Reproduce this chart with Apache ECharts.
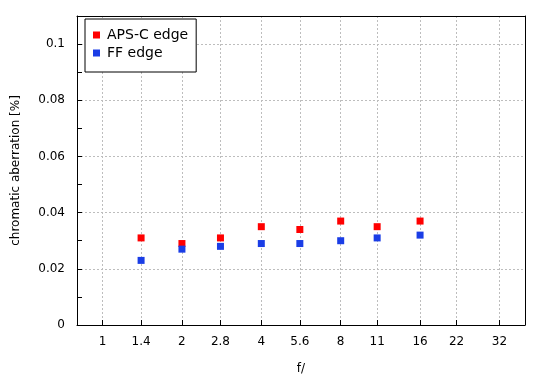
<!DOCTYPE html>
<html>
<head>
<meta charset="utf-8">
<script src="https://cdn.jsdelivr.net/npm/echarts@6/dist/echarts.min.js"></script>
<style>html,body{margin:0;padding:0;background:#fff}#c{width:550px;height:380px}</style>
</head>
<body>
<div id="c"></div>
<script>
var fStops = [1, 1.4, 2, 2.8, 4, 5.6, 8, 11, 16, 22, 32];
var apertures = [1.4, 2, 2.8, 4, 5.6, 8, 11, 16];
var apscEdge = [0.031, 0.029, 0.031, 0.035, 0.034, 0.037, 0.035, 0.037];
var ffEdge = [0.023, 0.027, 0.028, 0.029, 0.029, 0.030, 0.031, 0.032];
var yLabels = [0, 0.02, 0.04, 0.06, 0.08, 0.1];

var font = 'DejaVu Sans, Verdana, sans-serif';
var chart = echarts.init(document.getElementById('c'));
function pairs(xs, ys) { return xs.map(function (x, i) { return [x, ys[i]]; }); }
var gridLine = { show: true, lineStyle: { color: '#bdbdbd', type: [2, 2], width: 1 } };
chart.setOption({
  animation: false,
  grid: { left: 77, right: 25, top: 16, bottom: 55, containLabel: false },
  legend: {
    orient: 'vertical', left: 85, top: 19,
    backgroundColor: '#fff', borderColor: '#000', borderWidth: 1,
    padding: [9, 8, 12, 8],
    itemWidth: 7, itemHeight: 7, itemGap: 4,
    icon: 'rect',
    textStyle: { fontFamily: font, fontSize: 14, color: '#000', padding: [0, 0, 0, 2] },
    data: ['APS-C edge', 'FF edge']
  },
  xAxis: [{
    type: 'log', min: 0.8, max: 40, position: 'bottom',
    name: 'f/', nameLocation: 'middle', nameGap: 38,
    nameTextStyle: { fontFamily: font, fontSize: 12, color: '#000' },
    axisLine: { show: true, lineStyle: { color: '#000', width: 1 } },
    axisTick: { show: true, inside: true, length: 5, customValues: fStops, lineStyle: { color: '#000' } },
    axisLabel: { customValues: fStops, margin: 11, fontFamily: font, fontSize: 12, color: '#000',
      formatter: function (v) { return String(Math.round(v * 10) / 10); } },
    splitLine: gridLine,
    minorTick: { show: false }, minorSplitLine: { show: false }
  }, {
    type: 'value', min: 0, max: 1, position: 'top',
    axisLine: { show: true, onZero: false, lineStyle: { color: '#000', width: 1 } },
    axisTick: { show: false }, axisLabel: { show: false }, splitLine: { show: false }
  }],
  yAxis: [{
    type: 'value', min: 0, max: 0.11, interval: 0.01, position: 'left',
    name: 'chromatic aberration [%]', nameLocation: 'middle', nameGap: 55,
    nameTextStyle: { fontFamily: font, fontSize: 12, color: '#000' },
    axisLine: { show: true, onZero: false, lineStyle: { color: '#000', width: 1 } },
    axisTick: { show: true, inside: true, length: 5, lineStyle: { color: '#000' } },
    axisLabel: { margin: 12, fontFamily: font, fontSize: 12, color: '#000',
      formatter: function (v) {
        var r = Math.round(v * 1000) / 1000;
        for (var i = 0; i < yLabels.length; i++) if (Math.abs(yLabels[i] - r) < 1e-9) return String(yLabels[i]);
        return '';
      } },
    splitLine: { show: false }
  }, {
    type: 'value', min: 0, max: 0.11, interval: 0.02, position: 'right',
    axisLine: { show: true, onZero: false, lineStyle: { color: '#000', width: 1 } },
    axisTick: { show: false }, axisLabel: { show: false },
    splitLine: { show: true, showMinLine: false, showMaxLine: false, lineStyle: { color: '#bdbdbd', type: [2, 2], width: 1 } }
  }],
  series: [{
    name: 'APS-C edge', type: 'scatter', symbol: 'rect', symbolSize: 7,
    itemStyle: { color: '#ff0000', opacity: 1 }, data: pairs(apertures, apscEdge), z: 3
  }, {
    name: 'FF edge', type: 'scatter', symbol: 'rect', symbolSize: 7,
    itemStyle: { color: '#1a3de6', opacity: 1 }, data: pairs(apertures, ffEdge), z: 4
  }]
});
</script>
</body>
</html>
